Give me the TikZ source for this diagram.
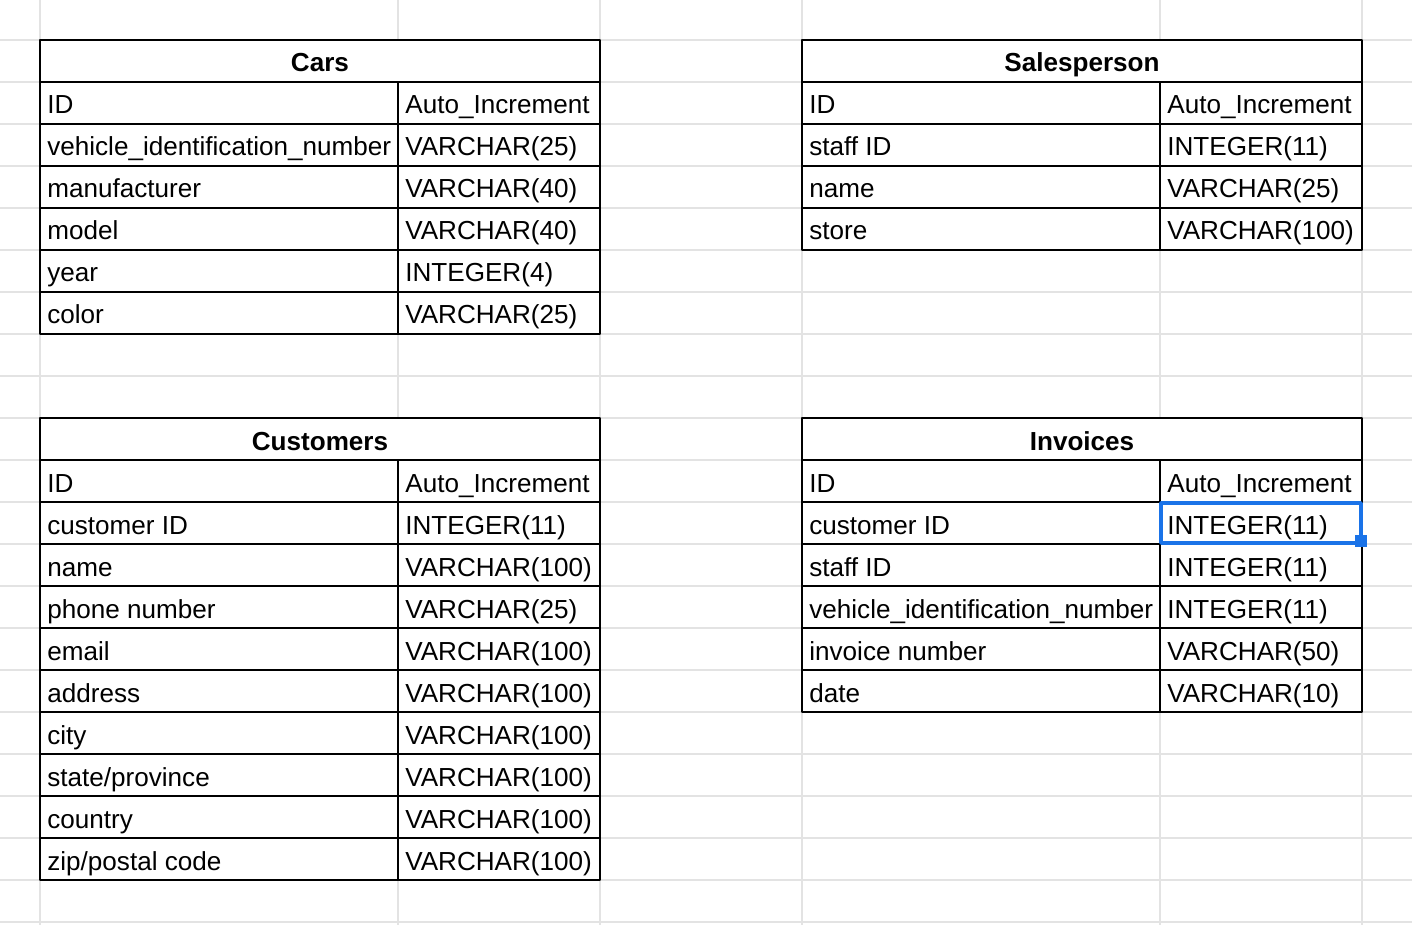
\documentclass[tikz,border=0pt]{standalone}
\usepackage{fontspec}
\setmainfont{Liberation Sans}
\definecolor{selblue}{HTML}{1A73E8}
\newcommand{\cellfont}{\fontsize{14.85}{17}\selectfont}
\tikzset{
  gridline/.style={draw=gray!22, line width=0.9pt},
  tableline/.style={draw=black, fill=white, line width=1.1pt},
  field/.style={anchor=base west, inner sep=0pt},
  title/.style={anchor=base, inner sep=0pt, font=\cellfont\bfseries},
}
% #1 name, #2 left, #3 top, #4 title, #5 rows field/type
\newcommand{\dbtable}[5]{%
  \filldraw[tableline] ({#2},{#3}) rectangle ({#2+560},{#3+42});
  \node[title] (#1-title) at ({#2+280},{#3+32}) {#4};
  \foreach \f/\t [count=\i] in {#5} {
    \filldraw[tableline] ({#2},{#3+42*\i}) rectangle ({#2+560},{#3+42*\i+42});
    \draw[tableline] ({#2+358},{#3+42*\i})--({#2+358},{#3+42*\i+42});
    \node[field] (#1-f\i) at ({#2+7},{#3+42*\i+32}) {\f};
    \node[field] (#1-t\i) at ({#2+365},{#3+42*\i+32}) {\t};
  }
}
\begin{document}
\begin{tikzpicture}[x=0.02cm,y=-0.02cm,font=\cellfont, line join=round]
  \useasboundingbox (0,0) rectangle (1412,925);
  % sheet grid
  \foreach \y in {40,82,...,922}
    \draw[gridline] (0,\y)--(1412,\y);
  \foreach \x in {40,398,600,802,1160,1362}
    \draw[gridline] (\x,0)--(\x,925);
  % tables
  \dbtable{cars}{40}{40}{Cars}{ID/Auto\_Increment,
    vehicle\_identification\_number/VARCHAR(25), manufacturer/VARCHAR(40),
    model/VARCHAR(40), year/INTEGER(4), color/VARCHAR(25)}
  \dbtable{sales}{802}{40}{Salesperson}{ID/Auto\_Increment,
    staff ID/INTEGER(11), name/VARCHAR(25), store/VARCHAR(100)}
  \dbtable{cust}{40}{418}{Customers}{ID/Auto\_Increment,
    customer ID/INTEGER(11), name/VARCHAR(100), phone number/VARCHAR(25),
    email/VARCHAR(100), address/VARCHAR(100), city/VARCHAR(100),
    {state/province}/VARCHAR(100), country/VARCHAR(100),
    {zip/postal code}/VARCHAR(100)}
  \dbtable{inv}{802}{418}{Invoices}{ID/Auto\_Increment,
    customer ID/INTEGER(11), staff ID/INTEGER(11),
    vehicle\_identification\_number/INTEGER(11),
    invoice number/VARCHAR(50), date/VARCHAR(10)}
  % selected cell
  \draw[selblue, line width=2pt] (1161,503) rectangle (1361,543);
  \fill[selblue] (1355,535) rectangle (1367,547);
\end{tikzpicture}
\end{document}
